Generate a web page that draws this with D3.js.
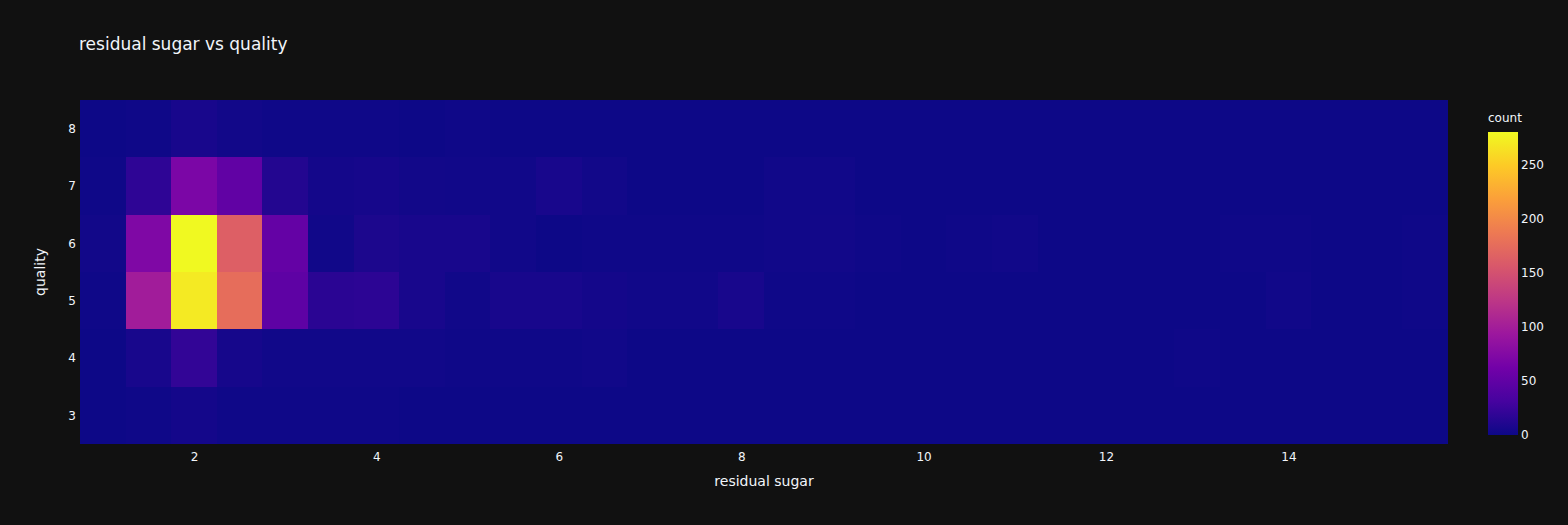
<!DOCTYPE html>
<html>
<head>
<meta charset="utf-8">
<script src="https://cdn.jsdelivr.net/npm/d3@7"></script>
<style>
  html, body { margin: 0; padding: 0; background: #111111; }
  svg text { font-family: "DejaVu Sans", Verdana, sans-serif; fill: #f2f5fa; }
</style>
</head>
<body>
<div id="graph"></div>
<script>
// residual sugar bins (left edges, width 0.5)
var sugarBins = [0.75, 1.25, 1.75, 2.25, 2.75, 3.25, 3.75, 4.25, 4.75, 5.25,
                 5.75, 6.25, 6.75, 7.25, 7.75, 8.25, 8.75, 9.25, 9.75, 10.25,
                 10.75, 11.25, 11.75, 12.25, 12.75, 13.25, 13.75, 14.25, 14.75, 15.25];
var binSize = 0.5;
var qualities = [3, 4, 5, 6, 7, 8];

// counts per quality, one per sugar bin
var q3 = [0, 1, 4, 1, 1, 1, 1, 0, 0, 0, 0, 0, 0, 0, 0, 0, 0, 0, 0, 0, 0, 0, 0, 0, 0, 0, 0, 0, 0, 0];
var q4 = [0, 6, 20, 5, 2, 2, 2, 2, 1, 1, 1, 2, 0, 0, 0, 0, 0, 0, 0, 0, 0, 0, 0, 0, 1, 0, 0, 0, 0, 0];
var q5 = [1, 98, 270, 176, 48, 16, 17, 6, 2, 6, 6, 4, 2, 2, 6, 1, 1, 0, 0, 0, 0, 0, 0, 0, 0, 0, 2, 0, 0, 1];
var q6 = [3, 72, 280, 163, 52, 2, 8, 6, 6, 2, 0, 1, 1, 1, 1, 2, 3, 1, 0, 1, 2, 0, 0, 0, 0, 1, 1, 0, 0, 1];
var q7 = [1, 18, 69, 50, 12, 4, 5, 3, 2, 2, 6, 3, 0, 0, 0, 2, 2, 0, 0, 0, 0, 0, 0, 0, 0, 0, 0, 0, 0, 0];
var q8 = [0, 1, 6, 3, 1, 1, 1, 0, 1, 0, 0, 0, 0, 0, 0, 0, 0, 0, 0, 0, 0, 0, 0, 0, 0, 0, 0, 0, 0, 0];
var countsByQuality = [q3, q4, q5, q6, q7, q8];

var xTicks = [2, 4, 6, 8, 10, 12, 14];
var yTicks = [3, 4, 5, 6, 7, 8];
var cbTicks = [0, 50, 100, 150, 200, 250];

var plasma = ["#0d0887", "#46039f", "#7201a8", "#9c179e", "#bd3786",
              "#d8576b", "#ed7953", "#fb9f3a", "#fdca26", "#f0f921"];

var W = 1568, H = 525;
var margin = {left: 80, right: 120, top: 100, bottom: 81};
var pw = W - margin.left - margin.right;
var ph = H - margin.top - margin.bottom;

var cells = [];
qualities.forEach(function(q, qi) {
    sugarBins.forEach(function(b, bi) {
        cells.push({q: q, x0: b, count: countsByQuality[qi][bi]});
    });
});
var maxCount = d3.max(cells, function(d) { return d.count; });

var x = d3.scaleLinear()
          .domain([sugarBins[0], sugarBins[sugarBins.length - 1] + binSize])
          .range([margin.left, margin.left + pw]);
var y = d3.scaleLinear()
          .domain([2.5, 8.5])
          .range([margin.top + ph, margin.top]);
var color = d3.scaleLinear()
          .domain(plasma.map(function(c, i) { return i / (plasma.length - 1) * maxCount; }))
          .range(plasma)
          .interpolate(d3.interpolateRgb)
          .clamp(true);

var svg = d3.select("#graph")
            .append("svg")
            .attr("width", W)
            .attr("height", H);

svg.append("rect").attr("width", W).attr("height", H).attr("fill", "#111111");

// heatmap
svg.append("g")
    .selectAll("rect")
    .data(cells)
    .enter()
    .append("rect")
    .attr("x", function(d) { return x(d.x0); })
    .attr("y", function(d) { return y(d.q + 0.5); })
    .attr("width", function(d) { return x(d.x0 + binSize) - x(d.x0); })
    .attr("height", function(d) { return y(d.q - 0.5) - y(d.q + 0.5); })
    .attr("fill", function(d) { return color(d.count); })
    .attr("shape-rendering", "crispEdges");

// x axis
var xAxis = svg.append("g")
    .attr("transform", "translate(0," + (margin.top + ph) + ")")
    .call(d3.axisBottom(x).tickValues(xTicks).tickSize(0).tickPadding(8).tickFormat(d3.format("d")));
xAxis.select(".domain").remove();
xAxis.selectAll("text").attr("font-size", 12).attr("dy", "0.71em").attr("y", 8);

// y axis
var yAxis = svg.append("g")
    .attr("transform", "translate(" + margin.left + ",0)")
    .call(d3.axisLeft(y).tickValues(yTicks).tickSize(0).tickPadding(4).tickFormat(d3.format("d")));
yAxis.select(".domain").remove();
yAxis.selectAll("text").attr("font-size", 12);

// titles
svg.append("text")
    .attr("x", 79).attr("y", 50)
    .attr("font-size", 17)
    .text("residual sugar vs quality");

svg.append("text")
    .attr("x", margin.left + pw / 2).attr("y", 486)
    .attr("text-anchor", "middle")
    .attr("font-size", 14)
    .text("residual sugar");

svg.append("text")
    .attr("transform", "translate(45," + (margin.top + ph / 2) + ") rotate(-90)")
    .attr("text-anchor", "middle")
    .attr("font-size", 14)
    .text("quality");

// colorbar
var cbX = 1488, cbW = 30, cbTop = 132, cbBottom = 435;
var cbScale = d3.scaleLinear().domain([0, maxCount]).range([cbBottom, cbTop]);

var grad = svg.append("defs").append("linearGradient")
    .attr("id", "cbgrad")
    .attr("x1", 0).attr("y1", 1).attr("x2", 0).attr("y2", 0);
plasma.forEach(function(c, i) {
    grad.append("stop")
        .attr("offset", (i / (plasma.length - 1) * 100) + "%")
        .attr("stop-color", c);
});

svg.append("rect")
    .attr("x", cbX).attr("y", cbTop)
    .attr("width", cbW).attr("height", cbBottom - cbTop)
    .attr("fill", "url(#cbgrad)");

var cbAxis = svg.append("g")
    .attr("transform", "translate(" + (cbX + cbW) + ",0)")
    .call(d3.axisRight(cbScale).tickValues(cbTicks).tickSize(0).tickPadding(3));
cbAxis.select(".domain").remove();
cbAxis.selectAll("text").attr("font-size", 12);

svg.append("text")
    .attr("x", cbX).attr("y", 122)
    .attr("font-size", 12)
    .text("count");
</script>
</body>
</html>
